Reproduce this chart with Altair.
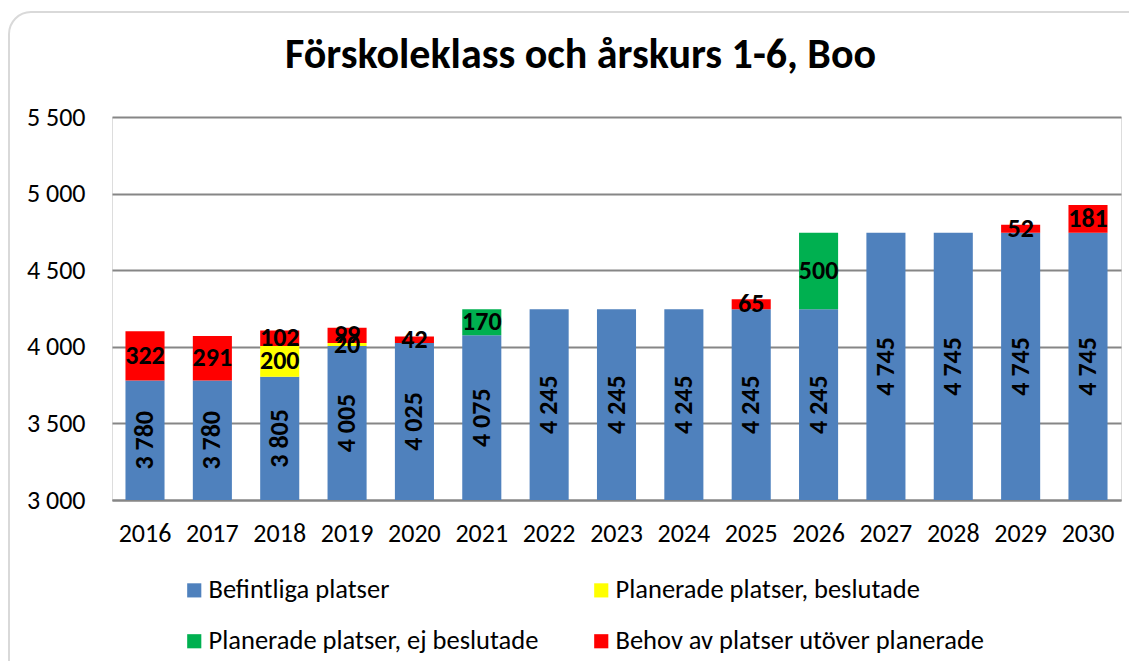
import altair as alt
import pandas as pd

years = ["2016", "2017", "2018", "2019", "2020", "2021", "2022", "2023",
         "2024", "2025", "2026", "2027", "2028", "2029", "2030"]
befintliga = [3780, 3780, 3805, 4005, 4025, 4075, 4245, 4245, 4245, 4245, 4245, 4745, 4745, 4745, 4745]
beslutade = [0, 0, 200, 20, 0, 0, 0, 0, 0, 0, 0, 0, 0, 0, 0]
ej_beslutade = [0, 0, 0, 0, 0, 170, 0, 0, 0, 0, 500, 0, 0, 0, 0]
behov = [322, 291, 102, 99, 42, 0, 0, 0, 0, 65, 0, 0, 0, 52, 181]

series_names = ["Befintliga platser", "Planerade platser, beslutade",
                "Planerade platser, ej beslutade", "Behov av platser utöver planerade"]
series_colors = ["#4F81BD", "#FFFF00", "#00B050", "#FF0000"]
series_values = [befintliga, beslutade, ej_beslutade, behov]

# legend is laid out column by column: list entries in that order
legend_order = [0, 2, 1, 3]
legend_domain = [series_names[i] for i in legend_order]
legend_range = [series_colors[i] for i in legend_order]

rows = []
for si, (name, vals) in enumerate(zip(series_names, series_values)):
    for yr, v in zip(years, vals):
        rows.append({"year": yr, "serie": name, "order": si, "value": v})
df = pd.DataFrame(rows)

FONT = "Carlito, Calibri, 'Open Sans', sans-serif"
YMIN, YMAX = 3000, 5500

base = alt.Chart(df).transform_filter(
    "datum.value > 0"
).transform_stack(
    stack="value", groupby=["year"], as_=["y0", "y1"],
    sort=[alt.SortField("order", order="ascending")]
).transform_calculate(
    mid=f"(max(datum.y0, {YMIN}) + datum.y1) / 2",
    lab="replace(format(datum.value, ','), ',', ' ')"
)

x_enc = alt.X("year:N", title=None, sort=years,
              scale=alt.Scale(paddingInner=0.42, paddingOuter=0.2),
              axis=alt.Axis(labelAngle=0, labelFontSize=26, labelFont=FONT,
                            labelColor="#000000", ticks=False, labelPadding=20,
                            domainColor="#868686", domainWidth=2))

bars = base.mark_bar(clip=True).encode(
    x=x_enc,
    y=alt.Y("y0:Q", title=None,
            scale=alt.Scale(domain=[YMIN, YMAX], nice=False, zero=False),
            axis=alt.Axis(values=[3000, 3500, 4000, 4500, 5000, 5500],
                          labelExpr="replace(format(datum.value, ','), ',', ' ')",
                          labelFontSize=26, labelFont=FONT, labelColor="#000000",
                          ticks=False, domain=False, labelPadding=27,
                          gridColor="#868686", gridWidth=2)),
    y2="y1:Q",
    color=alt.Color("serie:N",
                    scale=alt.Scale(domain=legend_domain, range=legend_range),
                    legend=alt.Legend(title=None, orient="none", legendX=69, legendY=460,
                                      columns=2, columnPadding=49, rowPadding=24,
                                      symbolType="square", symbolSize=200,
                                      symbolStrokeWidth=0, symbolOffset=0,
                                      labelFontSize=26.5, labelFont=FONT,
                                      labelColor="#000000", labelLimit=600,
                                      labelOffset=1)),
    order=alt.Order("order:Q"),
)

text_blue = base.transform_filter("datum.order == 0").mark_text(
    angle=270, fontSize=26, fontWeight="bold", font=FONT, color="#000000",
    baseline="middle", align="center"
).encode(x=alt.X("year:N", sort=years), y=alt.Y("mid:Q"), text="lab:N")

text_other = base.transform_filter("datum.order > 0").mark_text(
    fontSize=26, fontWeight="bold", font=FONT, color="#000000",
    baseline="middle", align="center"
).encode(x=alt.X("year:N", sort=years), y=alt.Y("mid:Q"), text="lab:N")

frame = alt.Chart(pd.DataFrame({"k": [0]})).mark_rect(
    fill=None, stroke="#d9d9d9", strokeWidth=2, cornerRadius=22, clip=False
).encode(x=alt.value(-103), x2=alt.value(1040), y=alt.value(-105), y2=alt.value(600))

chart = alt.layer(frame, bars, text_blue, text_other).properties(
    width=1009, height=383,
    autosize=alt.AutoSizeParams(type="none"),
    padding={"left": 104, "top": 109, "right": 8, "bottom": 161},
    title=alt.TitleParams("Förskoleklass och årskurs 1-6, Boo", fontSize=42,
                          fontWeight="bold", font=FONT, color="#000000",
                          anchor="middle", dx=-36, offset=-66),
).configure_view(stroke=None).configure(background="white")

chart.save("out.html", embed_options={"renderer": "svg", "actions": False})
